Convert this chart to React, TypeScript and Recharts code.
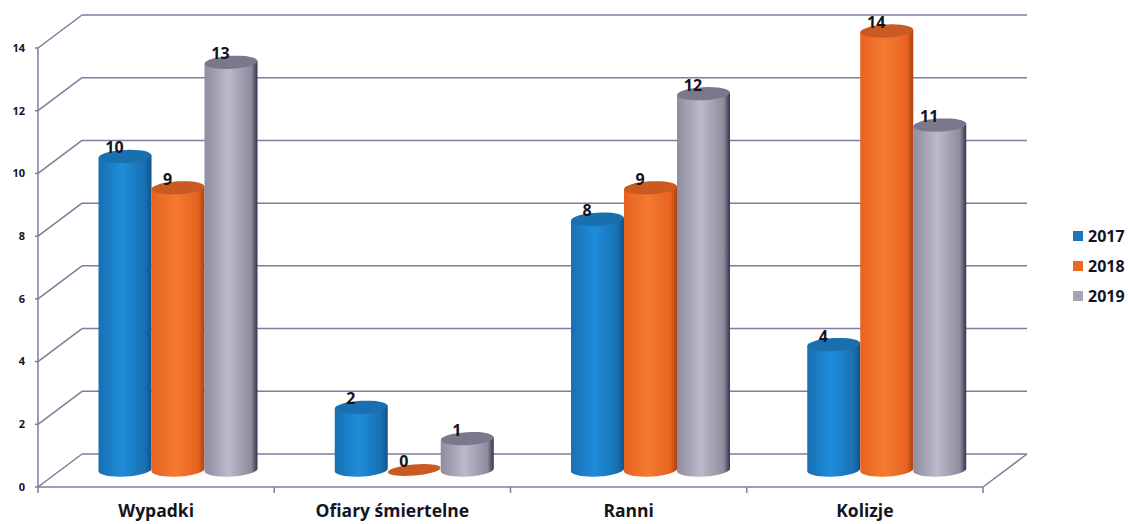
import { BarChart, Bar, XAxis, YAxis, CartesianGrid, Legend, LabelList } from 'recharts'

const categories = ['Wypadki', 'Ofiary śmiertelne', 'Ranni', 'Kolizje']
const values2017 = [10, 2, 8, 4]
const values2018 = [9, 0, 9, 14]
const values2019 = [13, 1, 12, 11]
const yTicks = [0, 2, 4, 6, 8, 10, 12, 14]

const data = categories.map((name, i) => ({
  name,
  y2017: values2017[i],
  y2018: values2018[i],
  y2019: values2019[i],
}))

const FONT = '"Open Sans", sans-serif'
const GRID = '#7d7da0'
const TEXT = '#14141e'
// the fake 3D floor: how far the back wall sits from the front axis
const DEPTH_X = 44
const DEPTH_Y = 33
// the bars stand halfway into that floor
const BAR_DX = 21.5
const BAR_DY = -17
const RY = 6.5

const series = [
  { key: 'y2017', label: '2017', swatch: '#1b75bc', top: '#1a6fae', edge: '#1770b2', mid: '#1f8ddb', rim: '#0f5488' },
  { key: 'y2018', label: '2018', swatch: '#ee6a24', top: '#c95a22', edge: '#e8621f', mid: '#f47b30', rim: '#a8420f' },
  { key: 'y2019', label: '2019', swatch: '#a5a3b3', top: '#7b788c', edge: '#8f8c9f', mid: '#bdb9ca', rim: '#35334a' },
]

function Cylinder(props: any) {
  const { x, y, width, height, seriesIndex } = props
  const s = series[seriesIndex]
  const left = x + BAR_DX
  const right = left + width
  const cx = left + width / 2
  const top = y + BAR_DY
  const bottom = top + height
  const rx = width / 2
  if (height < 1) {
    return <ellipse cx={cx} cy={top} rx={rx} ry={RY - 1} fill={s.top} transform={`rotate(-5 ${cx} ${top})`} />
  }
  const body = `M${left},${top + 1.5} L${left},${bottom + 1.5} A${rx},${RY} -3 0 0 ${right},${bottom - 1.5} L${right},${top - 1.5} Z`
  return (
    <g>
      <path d={body} fill={`url(#cyl-${seriesIndex})`} />
      <ellipse cx={cx} cy={top} rx={rx} ry={RY} fill={s.top} transform={`rotate(-3 ${cx} ${top})`} />
    </g>
  )
}

function Floor(props: any) {
  const { x1, x2, y1, index } = props
  return (
    <g>
      <line x1={x1} y1={y1} x2={x1 + DEPTH_X} y2={y1 - DEPTH_Y} stroke={GRID} strokeWidth={1.5} />
      <line x1={x1 + DEPTH_X} y1={y1 - DEPTH_Y} x2={x2 + DEPTH_X} y2={y1 - DEPTH_Y} stroke={GRID} strokeWidth={1.5} />
      {index === 0 && (
        <line x1={x2} y1={y1} x2={x2 + DEPTH_X} y2={y1 - DEPTH_Y} stroke={GRID} strokeWidth={1.5} />
      )}
    </g>
  )
}

// tick marks sit between categories, the label stays in the middle
function CategoryTick(props: any) {
  const { x, y, payload, index } = props
  const half = payload.offset
  const axisY = y - 2
  return (
    <g>
      <line x1={x - half} y1={axisY} x2={x - half} y2={axisY + 6} stroke={GRID} strokeWidth={1.5} />
      {index === categories.length - 1 && (
        <line x1={x + half} y1={axisY} x2={x + half} y2={axisY + 6} stroke={GRID} strokeWidth={1.5} />
      )}
      <text
        x={x}
        y={axisY + 30}
        textAnchor="middle"
        fill={TEXT}
        fontFamily={FONT}
        fontWeight={700}
        fontSize={17.5}
      >
        {payload.value}
      </text>
    </g>
  )
}

function LegendBox() {
  return (
    <div>
      {series.map((s) => (
        <div key={s.key} style={{ display: 'flex', alignItems: 'center', height: 30 }}>
          <span style={{ width: 10, height: 10, background: s.swatch, marginRight: 5 }} />
          <span style={{ fontFamily: FONT, fontWeight: 700, fontSize: 16, color: TEXT }}>{s.label}</span>
        </div>
      ))}
    </div>
  )
}

export default function App() {
  return (
    <div style={{ position: 'absolute', left: 0, top: 0 }}>
      <BarChart
        width={1128}
        height={524}
        data={data}
        margin={{ top: 48, right: 145, bottom: 0, left: 0 }}
        barCategoryGap={39}
        barGap={0}
      >
        <defs>
          {series.map((s, i) => (
            <linearGradient key={s.key} id={`cyl-${i}`} x1="0" y1="0" x2="1" y2="0">
              <stop offset="0%" stopColor={s.edge} />
              <stop offset="45%" stopColor={s.mid} />
              <stop offset="88%" stopColor={s.edge} />
              <stop offset="100%" stopColor={s.rim} />
            </linearGradient>
          ))}
        </defs>
        <CartesianGrid vertical={false} horizontal={(p: any) => <Floor key={p.index} {...p} />} syncWithTicks />
        <XAxis
          dataKey="name"
          height={37}
          axisLine={{ stroke: GRID, strokeWidth: 1.5 }}
          tickLine={false}
          tickSize={2}
          tickMargin={0}
          interval={0}
          tick={CategoryTick}
        />
        <YAxis
          width={38}
          domain={[0, 14]}
          ticks={yTicks}
          interval={0}
          axisLine={{ stroke: GRID, strokeWidth: 1.5 }}
          tickLine={{ stroke: GRID, strokeWidth: 1.5 }}
          tickSize={3}
          tickMargin={10}
          tick={{ fill: TEXT, fontFamily: FONT, fontWeight: 700, fontSize: 11 }}
        />
        <Legend
          layout="vertical"
          align="center"
          verticalAlign="middle"
          content={<LegendBox />}
          wrapperStyle={{ left: 1073, top: 221, width: 55 }}
        />
        {series.map((s, i) => (
          <Bar
            key={s.key}
            dataKey={s.key}
            name={s.label}
            fill={s.swatch}
            isAnimationActive={false}
            shape={(p: any) => <Cylinder {...p} seriesIndex={i} />}
          >
            <LabelList
              dataKey={s.key}
              position="top"
              offset={20}
              dx={11}
              fill={TEXT}
              fontFamily={FONT}
              fontWeight={700}
              fontSize={16}
            />
          </Bar>
        ))}
      </BarChart>
    </div>
  )
}
